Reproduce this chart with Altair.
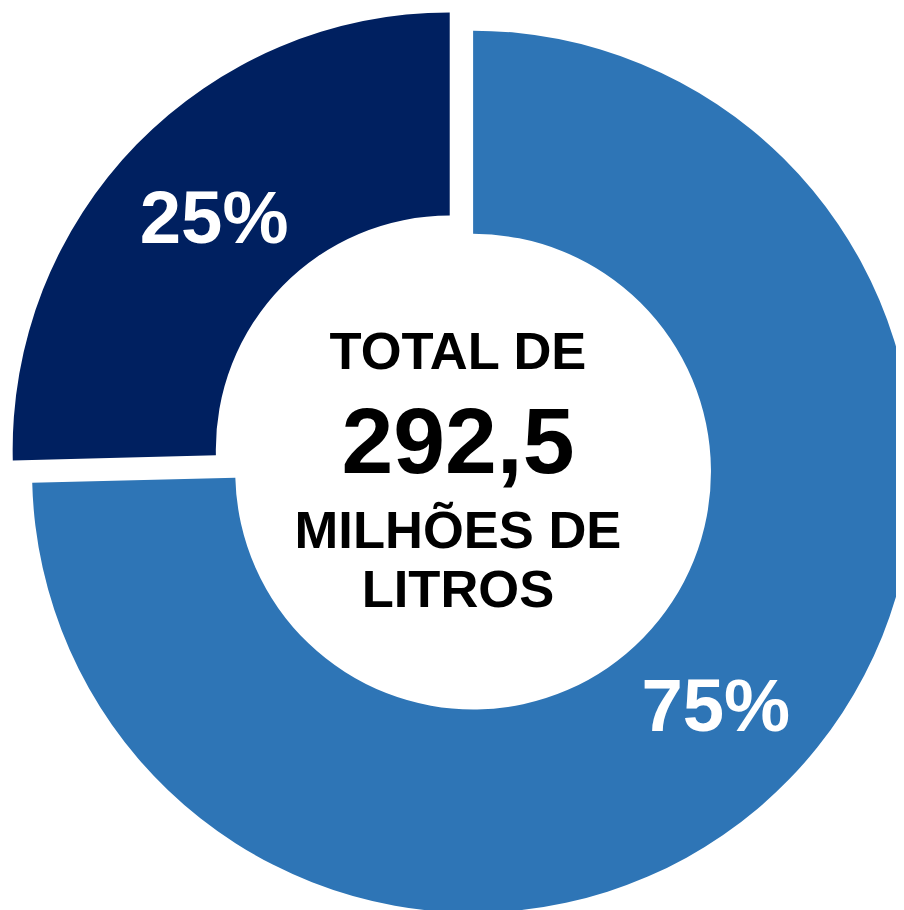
import altair as alt
import pandas as pd

# data
categories = ["Parte maior", "Parte menor"]
values = [74.6, 25.4]
order = [0, 1]
slice_colors = ["#2E75B6", "#002060"]
center_lines = ["TOTAL DE", "292,5", "MILHÕES DE", "LITROS"]

df = pd.DataFrame({"categoria": categories, "valor": values, "ordem": order})

FONT = "Liberation Sans"
# per slice: center x, center y, outer radius, inner radius, label radius (second slice is exploded)
geometry = {
    0: (469.3, 463.8, 445, 240, 342),
    1: (445.7, 441.4, 441, 236, 332),
}

base = (
    alt.Chart(df)
    .transform_joinaggregate(total="sum(valor)")
    .transform_window(cum="sum(valor)", sort=[alt.SortField("ordem")], frame=[None, 0])
    .transform_calculate(
        t0="2*PI*(datum.cum - datum.valor)/datum.total",
        t1="2*PI*datum.cum/datum.total",
        tm="PI*(2*datum.cum - datum.valor)/datum.total",
        pct="format(datum.valor/datum.total, '.0%')",
    )
)

color = alt.Color(
    "categoria:N",
    scale=alt.Scale(domain=categories, range=slice_colors),
    legend=None,
)

layers = []
for k, (cx, cy, ro, ri, rl) in geometry.items():
    sub = base.transform_filter(f"datum.ordem == {k}")
    arc = sub.mark_arc(outerRadius=ro, innerRadius=ri).encode(
        theta=alt.Theta("t0:Q", scale=None),
        theta2=alt.Theta2("t1:Q"),
        color=color,
        x=alt.value(cx),
        y=alt.value(cy),
    )
    lab = sub.mark_text(
        radius=rl, font=FONT, fontWeight="bold", fontSize=75,
        color="white", align="center", baseline="middle",
    ).encode(
        theta=alt.Theta("tm:Q", scale=None),
        text="pct:N",
        x=alt.value(cx),
        y=alt.value(cy),
    )
    layers += [arc, lab]

sizes = [53, 94, 53, 53]
baselines = [360, 465, 541, 600]
for line, fs, by in zip(center_lines, sizes, baselines):
    t = alt.Chart(pd.DataFrame({"t": [line]})).mark_text(
        font=FONT, fontWeight="bold", fontSize=fs, color="black",
        align="center", baseline="alphabetic",
    ).encode(text="t:N", x=alt.value(454), y=alt.value(by))
    layers.append(t)

chart = (
    alt.layer(*layers)
    .properties(width=896, height=902, autosize=alt.AutoSizeParams(type="none"), padding=0, background="white")
    .configure_view(stroke=None)
)

chart.save("out.html", embed_options={"renderer": "svg", "actions": False})
